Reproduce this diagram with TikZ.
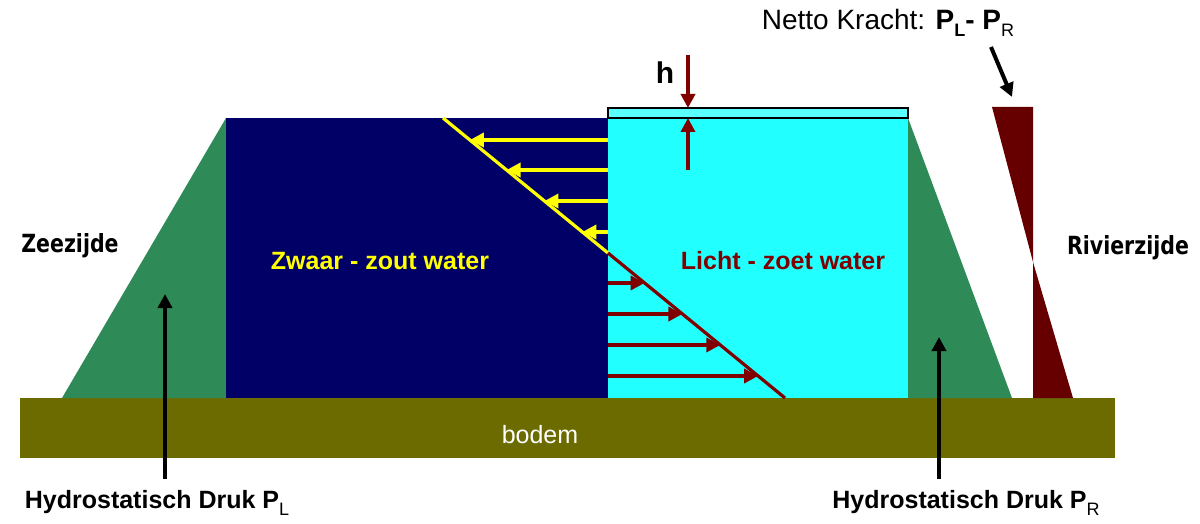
\documentclass[tikz,border=0pt]{standalone}
\usepackage{fontspec}
\setmainfont{Liberation Sans}
\newfontfamily\sidefont[FakeStretch=0.82]{DejaVu Sans}
\usepackage{tikz}
\usetikzlibrary{calc, arrows.meta}
\usepackage{xcolor}
\definecolor{seaBlue}{RGB}{0, 0, 102}
\definecolor{freshCyan}{RGB}{34, 255, 255}
\definecolor{topCyan}{RGB}{90, 255, 255}
\definecolor{dikeGreen}{RGB}{46, 139, 87}
\definecolor{soilOlive}{RGB}{107, 107, 0}
\definecolor{arrowRed}{RGB}{128, 0, 0}
\definecolor{netRed}{RGB}{102, 0, 0}
\definecolor{saltYellow}{RGB}{255, 255, 0}
\newcommand{\lowidx}[1]{\raisebox{-3.5pt}{\fontsize{9}{9}\selectfont\mdseries #1}}

\begin{document}
\begin{tikzpicture}[x=0.5pt, y=-0.5pt, >={Triangle[length=7pt, width=7pt]},
    lbl/.style={font=\fontsize{12.5}{14}\selectfont\bfseries, inner sep=0pt, anchor=base},
    plain/.style={font=\fontsize{12.5}{14}\selectfont, inner sep=0pt, anchor=base},
    side/.style={font=\sidefont\fontsize{12.5}{14}\selectfont\bfseries, inner sep=0pt},
    force/.style={line width=2pt, ->}]
  \useasboundingbox (0,0) rectangle (1200,524);

  % bodem, dijken en water
  \fill[soilOlive] (20,398) rectangle (1115,458);
  \fill[dikeGreen] (62,398) -- (226,118) -- (226,398) -- cycle;
  \fill[dikeGreen] (908,118) -- (1012,398) -- (908,398) -- cycle;
  \fill[seaBlue] (226,118) rectangle (608,398);
  \fill[freshCyan] (608,118) rectangle (908,398);
  \coordinate (stripNW) at (608,108);
  \coordinate (stripSW) at (608,118);
  \draw[fill=topCyan, line width=0.6pt] (stripNW) rectangle (908,118);

  % drukverdeling
  \coordinate (saltTop) at (443,118);
  \coordinate (mid) at (608,253);
  \coordinate (freshBot) at (785,398);
  \draw[saltYellow, line width=1.6pt] (saltTop) -- (mid);
  \draw[arrowRed, line width=1.6pt] (mid) -- (freshBot);
  \foreach \y in {140,170,201,232} {
    \coordinate (p) at ($(saltTop)!{(\y-118)/135}!(mid)$);
    \draw[force, saltYellow] (mid |- p) -- (p);
  }
  \foreach \y in {283,314,345,376} {
    \coordinate (q) at ($(mid)!{(\y-253)/145}!(freshBot)$);
    \draw[force, arrowRed] (mid |- q) -- (q);
  }

  % netto kracht
  \fill[netRed] (992,107) -- (1033,107) -- (1033,262) -- cycle;
  \fill[netRed] (1033,262) -- (1033,398) -- (1073,398) -- cycle;

  % h
  \node[lbl, font=\fontsize{15}{16}\selectfont\bfseries] (hlbl) at (665,84) {h};
  \coordinate (hA) at (688,55);
  \coordinate (hB) at (688,170);
  \draw[force, arrowRed] (hA) -- (hA |- stripNW);
  \draw[force, arrowRed] (hB) -- (hB |- stripSW);

  % teksten
  \node[lbl, saltYellow] (salt) at (380,269) {Zwaar - zout water};
  \node[lbl, arrowRed] (fresh) at (783,269) {Licht - zoet water};
  \node[plain, white] (bodem) at (540,443) {bodem};
  \node[side] (zee) at (70,246) {Zeezijde};
  \node[side] (rivier) at (1128,248) {Rivierzijde};
  \node[plain, font=\fontsize{14}{16}\selectfont] (netto) at (888,30)
    {Netto Kracht: \textbf{P\lowidx{\bfseries L}- P\lowidx{R}}};
  \node[lbl] (pl) at (157,508) {Hydrostatisch Druk P\lowidx{L}};
  \node[lbl] (pr) at (966,508) {Hydrostatisch Druk P\lowidx{R}};

  % pijlen naar de labels
  \coordinate (nettoFoot) at (991,47);
  \coordinate (nettoTip) at (1012,97);
  \draw[force] (nettoFoot) -- (nettoTip);
  \coordinate (plTip) at (165,294);
  \coordinate (prTip) at (939,337);
  \draw[force] (plTip |- 0,479) -- (plTip);
  \draw[force] (prTip |- 0,479) -- (prTip);
\end{tikzpicture}
\end{document}
